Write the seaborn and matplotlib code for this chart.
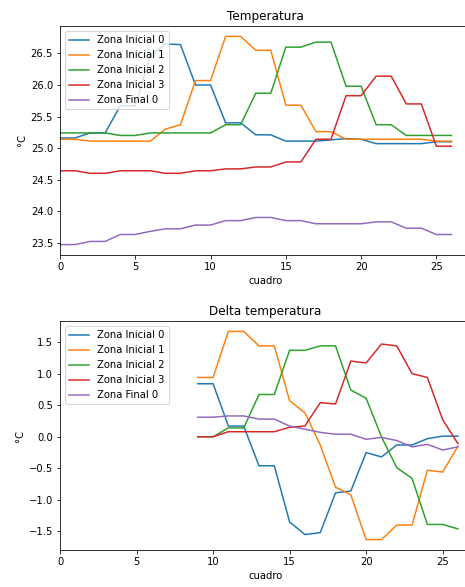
import matplotlib
matplotlib.use("Agg")
import matplotlib.pyplot as plt
import pandas as pd
import seaborn as sns

# Temperatura por cuadro (0..26)
cuadro = list(range(27))
zona_inicial_0 = [25.16, 25.16, 25.24, 25.24, 25.67, 25.67, 26.47, 26.65, 26.64, 26.00,
                  26.00, 25.40, 25.40, 25.21, 25.21, 25.11, 25.11, 25.11, 25.13, 25.15,
                  25.14, 25.07, 25.07, 25.07, 25.07, 25.10, 25.10]
zona_inicial_1 = [25.14, 25.14, 25.11, 25.11, 25.11, 25.11, 25.11, 25.30, 25.37, 26.07,
                  26.07, 26.77, 26.77, 26.55, 26.55, 25.68, 25.68, 25.26, 25.26, 25.14,
                  25.14, 25.14, 25.14, 25.14, 25.14, 25.11, 25.11]
zona_inicial_2 = [25.24, 25.24, 25.24, 25.24, 25.20, 25.20, 25.24, 25.24, 25.24, 25.24,
                  25.24, 25.37, 25.37, 25.87, 25.87, 26.60, 26.60, 26.68, 26.68, 25.98,
                  25.98, 25.37, 25.37, 25.20, 25.20, 25.20, 25.20]
zona_inicial_3 = [24.64, 24.64, 24.60, 24.60, 24.64, 24.64, 24.64, 24.60, 24.60, 24.64,
                  24.64, 24.67, 24.67, 24.70, 24.70, 24.78, 24.78, 25.14, 25.14, 25.83,
                  25.83, 26.14, 26.14, 25.70, 25.70, 25.03, 25.03]
zona_final_0 = [23.47, 23.47, 23.52, 23.52, 23.63, 23.63, 23.68, 23.72, 23.72, 23.78,
                23.78, 23.85, 23.85, 23.90, 23.90, 23.85, 23.85, 23.80, 23.80, 23.80,
                23.80, 23.83, 23.83, 23.73, 23.73, 23.63, 23.63]

# Delta temperatura (cuadros 9..26)
cuadro_delta = list(range(9, 27))
delta_inicial_0 = [0.84, 0.84, 0.17, 0.17, -0.46, -0.46, -1.35, -1.55, -1.52, -0.89,
                   -0.86, -0.25, -0.32, -0.13, -0.13, -0.03, 0.01, 0.01]
delta_inicial_1 = [0.94, 0.94, 1.67, 1.67, 1.44, 1.44, 0.57, 0.38, -0.13, -0.80,
                   -0.92, -1.63, -1.63, -1.40, -1.40, -0.53, -0.56, -0.15]
delta_inicial_2 = [0.0, 0.0, 0.14, 0.14, 0.67, 0.67, 1.37, 1.37, 1.44, 1.44,
                   0.74, 0.61, 0.0, -0.49, -0.66, -1.39, -1.39, -1.46]
delta_inicial_3 = [0.0, 0.0, 0.08, 0.08, 0.08, 0.08, 0.15, 0.17, 0.54, 0.52,
                   1.20, 1.17, 1.47, 1.44, 1.00, 0.94, 0.27, -0.11]
delta_final_0 = [0.31, 0.31, 0.33, 0.33, 0.28, 0.28, 0.17, 0.12, 0.07, 0.04,
                 0.04, -0.04, -0.01, -0.06, -0.16, -0.12, -0.21, -0.16]

nombres = ["Zona Inicial 0", "Zona Inicial 1", "Zona Inicial 2", "Zona Inicial 3", "Zona Final 0"]

df_temp = pd.DataFrame(
    dict(zip(nombres, [zona_inicial_0, zona_inicial_1, zona_inicial_2, zona_inicial_3, zona_final_0])),
    index=pd.Index(cuadro, name="cuadro"),
)
df_delta = pd.DataFrame(
    dict(zip(nombres, [delta_inicial_0, delta_inicial_1, delta_inicial_2, delta_inicial_3, delta_final_0])),
    index=pd.Index(cuadro_delta, name="cuadro"),
)

W, H = 465, 587
fig = plt.figure(figsize=(W / 72, H / 72), dpi=72)

# las dos gráficas, el borde derecho queda fuera de la imagen como en el original
ax1 = fig.add_axes([60 / W, (H - 255) / H, 411 / W, 229 / H])
ax2 = fig.add_axes([60 / W, (H - 550) / H, 411 / W, 229 / H])

sns.lineplot(data=df_temp, dashes=False, ax=ax1)
ax1.set_xlim(left=0)
ax1.set_title("Temperatura")
ax1.set_xlabel("cuadro")
ax1.set_ylabel("°C")
ax1.legend(loc="upper left")

sns.lineplot(data=df_delta, dashes=False, ax=ax2)
ax2.set_xlim(left=0)
ax2.set_title("Delta temperatura")
ax2.set_xlabel("cuadro")
ax2.set_ylabel("°C")
ax2.legend(loc="upper left")

fig.savefig("out.png", dpi=72)
